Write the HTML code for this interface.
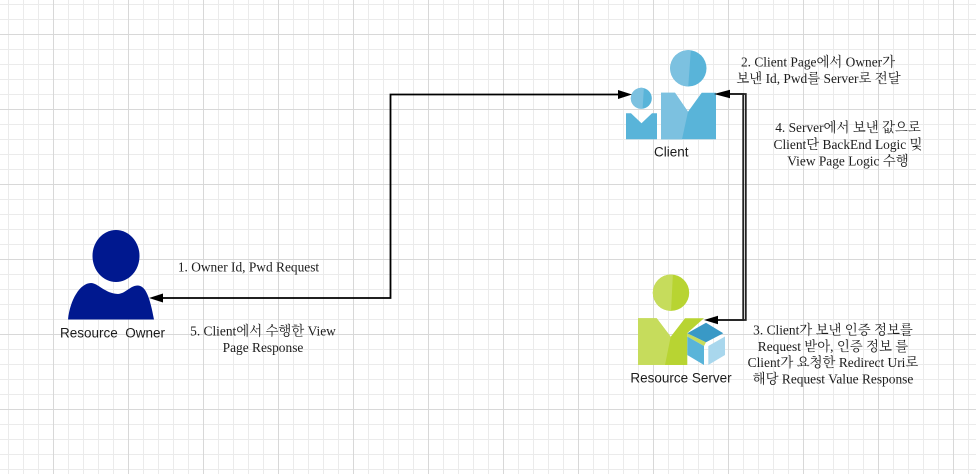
<!DOCTYPE html>
<html lang="ko">
<head>
<meta charset="utf-8">
<style>
html,body{margin:0;padding:0;background:#fff;width:976px;height:474px;overflow:hidden}
svg{display:block;filter:blur(.35px)}
.s{font-family:"Liberation Serif","Noto Serif CJK SC",serif;font-size:13.4px;fill:#1c1c1c;text-anchor:middle}
.l{font-family:"Liberation Sans",sans-serif;font-size:13.5px;fill:#1c1c1c;text-anchor:middle;white-space:pre}
</style>
</head>
<body>
<svg width="976" height="474" viewBox="0 0 976 474" xmlns="http://www.w3.org/2000/svg">
<defs>
<pattern id="minor" x="8" y="4" width="15" height="15" patternUnits="userSpaceOnUse">
<path d="M0.5 0V15M0 0.5H15" stroke="#ebebeb" stroke-width="1" fill="none"/>
</pattern>
<pattern id="major" x="53" y="34" width="75" height="75" patternUnits="userSpaceOnUse">
<path d="M0.5 0V75M0 0.5H75" stroke="#d8d8d8" stroke-width="1" fill="none"/>
</pattern>
<clipPath id="h1"><circle cx="688.3" cy="68.3" r="18.2"/></clipPath>
<clipPath id="h2"><circle cx="641.3" cy="98.3" r="10.5"/></clipPath>
<clipPath id="h3"><circle cx="671" cy="292.7" r="18.2"/></clipPath>
</defs>
<rect width="976" height="474" fill="#fff"/>
<rect width="976" height="474" fill="url(#minor)"/>
<rect width="976" height="474" fill="url(#major)"/>

<!-- Resource Owner -->
<ellipse cx="116" cy="256" rx="23.5" ry="26" fill="#00188f"/>
<path d="M68 319.5C70 300 80 283 91 283C98 283 105 293.5 118 294C126 293.5 130 285.5 138 285.5C146 286 150 298 154 319.5Z" fill="#00188f"/>

<!-- Client big -->
<circle cx="688.3" cy="68.3" r="18.2" fill="#59b4d9"/>
<path d="M691 48H665V90H688Z" fill="#7cc1e0" clip-path="url(#h1)"/>
<path d="M661 92.7H675L688 111.7L701.7 92.7H716V139.3H661Z" fill="#59b4d9"/>
<path d="M661 92.7H675L688 111.7L682 139.3H661Z" fill="#7cc1e0"/>
<!-- Client small -->
<circle cx="641.3" cy="98.3" r="10.5" fill="#59b4d9"/>
<path d="M644 86H628V110H642.5Z" fill="#7cc1e0" clip-path="url(#h2)"/>
<path d="M626 113.3H631L641.5 123.3L652 113.3H657V139.3H626Z" fill="#59b4d9"/>

<!-- Resource Server -->
<circle cx="671" cy="292.7" r="18.2" fill="#b8d432"/>
<path d="M673 272H650V312H671Z" fill="#c6dc5c" clip-path="url(#h3)"/>
<path d="M638 318.3H656.7L670.7 336.7L685 318.3H704L687.3 333V365H638Z" fill="#b8d432"/>
<path d="M638 318.3H656.7L670.7 336.7L665 365H638Z" fill="#c6dc5c"/>
<path d="M687.3 333.3L706 342.3L704 346L687.3 336.5Z" fill="#c6dc5c"/>
<path d="M687.3 333.3L706 322.7L723.3 333.3L706 342.3Z" fill="#3999c6"/>
<path d="M687.3 336.5L704 346V365L687.3 355Z" fill="#59b4d9"/>
<path d="M708.3 346L725 336.5V355L708.3 365Z" fill="#a9d7ed"/>

<!-- Connectors -->
<path d="M160 298H390.5V94.5H620" fill="none" stroke="#000" stroke-width="1.8"/>
<path d="M149 298L163 293.5V302.5Z" fill="#000"/>
<path d="M632 94.5L618 90V99Z" fill="#000"/>
<path d="M728 94H743.2V320H716" fill="none" stroke="#222" stroke-width="1.8"/>
<path d="M728 94H745.8V320H716" fill="none" stroke="#222" stroke-width="1.8"/>
<path d="M714 94L730 89.8V98.2Z" fill="#000"/>
<path d="M704 320L718 315.8V324.2Z" fill="#000"/>

<!-- Node labels -->
<text class="l" x="671.3" y="156.7">Client</text>
<text class="l" x="681" y="382.7">Resource Server</text>
<text class="l" x="112.5" y="337.7" xml:space="preserve">Resource  Owner</text>

<!-- Annotations -->
<text class="s" x="818" y="66.7">2. Client Page에서 Owner가</text>
<text class="s" x="818.5" y="83">보낸 Id, Pwd를 Server로 전달</text>
<text class="s" x="848" y="132">4. Server에서 보낸 값으로</text>
<text class="s" x="848" y="149">Client단 BackEnd Logic 및</text>
<text class="s" x="848" y="165.7">View Page Logic 수행</text>
<text class="s" x="833" y="334.3">3. Client가 보낸 인증 정보를</text>
<text class="s" x="833" y="351">Request 받아, 인증 정보 를</text>
<text class="s" x="833" y="367">Client가 요청한 Redirect Uri로</text>
<text class="s" x="833" y="383.5">해당 Request Value Response</text>
<text class="s" x="248.5" y="271.7">1. Owner Id, Pwd Request</text>
<text class="s" x="263" y="335.7">5. Client에서 수행한 View</text>
<text class="s" x="263" y="352">Page Response</text>
</svg>
</body>
</html>
